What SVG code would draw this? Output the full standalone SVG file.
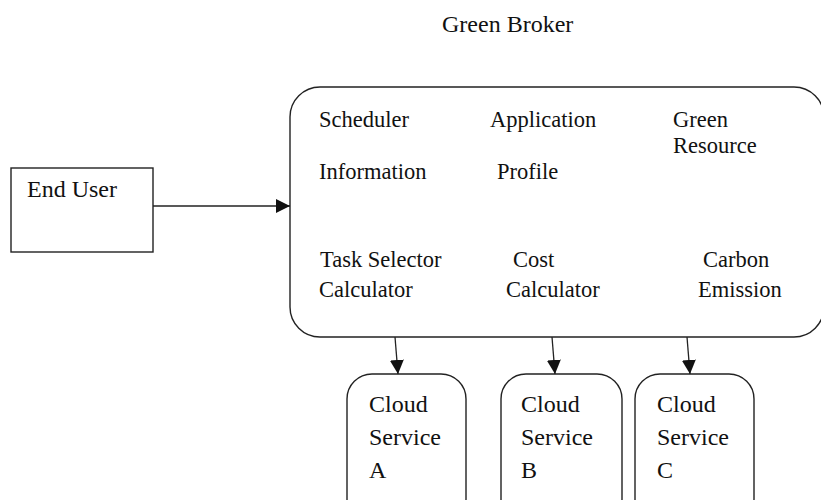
<svg xmlns="http://www.w3.org/2000/svg" width="821" height="500" viewBox="0 0 821 500">
  <defs>
    <style>
      .box { fill: #ffffff; stroke: #222222; stroke-width: 1.4; }
      .t { font-family: "Liberation Serif", "Times New Roman", serif; font-size: 22.5px; fill: #111111; }
      .tl { font-family: "Liberation Serif", "Times New Roman", serif; font-size: 24px; fill: #111111; }
      .conn { stroke: #222222; stroke-width: 1.3; fill: none; marker-end: url(#arrow); }
    </style>
    <marker id="arrow" markerUnits="userSpaceOnUse" markerWidth="14" markerHeight="14" viewBox="0 0 12 12" refX="12" refY="6" orient="auto">
      <path d="M0,0 L12,6 L0,12 Z" fill="#111111"/>
    </marker>
  </defs>
  <rect width="821" height="500" fill="#ffffff"/>

  <g id="title">
    <text class="tl" x="442" y="32">Green Broker</text>
  </g>

  <g id="end-user">
    <rect class="box" x="11" y="168" width="142" height="84"/>
    <text class="tl" x="27" y="197">End User</text>
  </g>

  <g id="green-broker">
    <rect class="box" x="290" y="87" width="534" height="250" rx="30" ry="30"/>
    <text class="t" x="319" y="127">Scheduler</text>
    <text class="t" x="319" y="179">Information</text>
    <text class="t" x="490" y="127">Application</text>
    <text class="t" x="497" y="179">Profile</text>
    <text class="t" x="673" y="127">Green</text>
    <text class="t" x="673" y="153">Resource</text>
    <text class="t" x="320" y="267">Task Selector</text>
    <text class="t" x="319" y="297">Calculator</text>
    <text class="t" x="513" y="267">Cost</text>
    <text class="t" x="506" y="297">Calculator</text>
    <text class="t" x="703" y="267">Carbon</text>
    <text class="t" x="698" y="297">Emission</text>
  </g>

  <g id="cloud-a">
    <rect class="box" x="347" y="374" width="119" height="150" rx="25" ry="25"/>
    <text class="tl" x="369" y="412">Cloud</text>
    <text class="tl" x="369" y="445">Service</text>
    <text class="tl" x="369" y="478">A</text>
  </g>

  <g id="cloud-b">
    <rect class="box" x="501" y="374" width="121" height="150" rx="25" ry="25"/>
    <text class="tl" x="521" y="412">Cloud</text>
    <text class="tl" x="521" y="445">Service</text>
    <text class="tl" x="521" y="478">B</text>
  </g>

  <g id="cloud-c">
    <rect class="box" x="635" y="374" width="119" height="150" rx="25" ry="25"/>
    <text class="tl" x="657" y="412">Cloud</text>
    <text class="tl" x="657" y="445">Service</text>
    <text class="tl" x="657" y="478">C</text>
  </g>

  <g id="connectors">
    <line class="conn" x1="153" y1="206" x2="290" y2="206"/>
    <line class="conn" x1="395" y1="337" x2="398" y2="374"/>
    <line class="conn" x1="552" y1="337" x2="555" y2="374"/>
    <line class="conn" x1="687" y1="337" x2="690" y2="374"/>
  </g>
</svg>
